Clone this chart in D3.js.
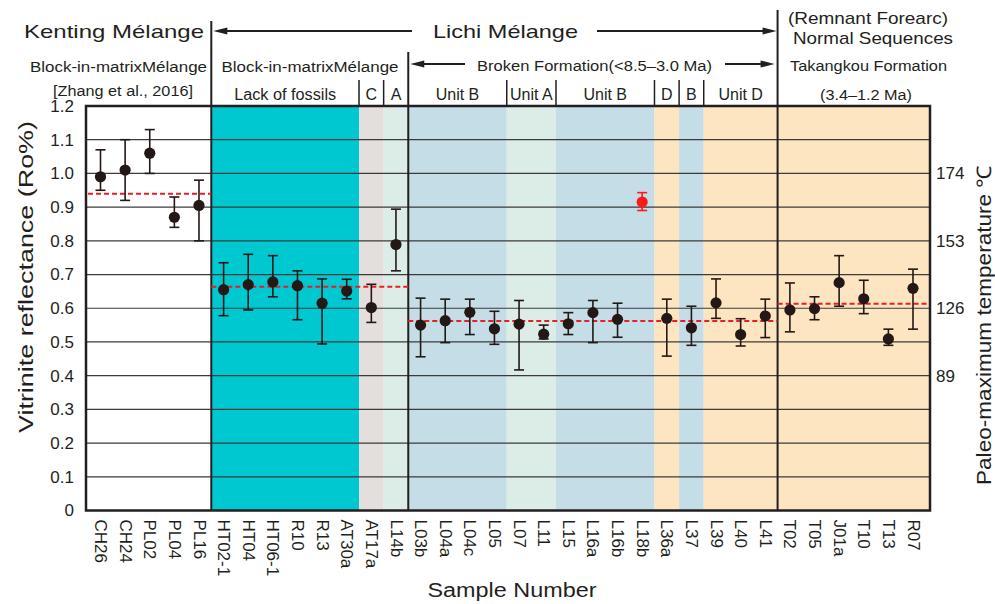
<!DOCTYPE html>
<html>
<head>
<meta charset="utf-8">
<script src="https://cdn.jsdelivr.net/npm/d3@7/dist/d3.min.js"></script>
<style>
	body { margin: 0; background: #fff; }
	svg { display: block; }
</style>
</head>
<body>
<div id="chart"></div>
<script>
// samples along the x axis, left to right
const samples = ['CH26', 'CH24', 'PL02', 'PL04', 'PL16',
	'HT02-1', 'HT04', 'HT06-1', 'R10', 'R13', 'AT30a', 'AT17a', 'L14b',
	'L03b', 'L04a', 'L04c', 'L05', 'L07', 'L11', 'L15', 'L16a', 'L16b', 'L18b',
	'L36a', 'L37', 'L39', 'L40', 'L41',
	'T02', 'T05', 'J01a', 'T10', 'T13', 'R07']

// vitrinite reflectance, Ro% (mean, low, high)
const ro = [0.99, 1.01, 1.06, 0.87, 0.905,
	0.655, 0.67, 0.678, 0.667, 0.615, 0.651, 0.602, 0.789,
	0.55, 0.563, 0.588, 0.539, 0.553, 0.523, 0.554, 0.587, 0.567, 0.915,
	0.57, 0.542, 0.616, 0.522, 0.577,
	0.595, 0.599, 0.676, 0.628, 0.509, 0.659]
const roLow = [0.95, 0.92, 1.0, 0.84, 0.80,
	0.578, 0.595, 0.634, 0.566, 0.494, 0.628, 0.558, 0.711,
	0.456, 0.498, 0.522, 0.493, 0.417, 0.509, 0.522, 0.498, 0.514, 0.89,
	0.458, 0.49, 0.57, 0.488, 0.513,
	0.53, 0.566, 0.606, 0.584, 0.49, 0.538]
const roHigh = [1.07, 1.10, 1.13, 0.93, 0.98,
	0.735, 0.76, 0.756, 0.711, 0.687, 0.686, 0.671, 0.894,
	0.63, 0.627, 0.627, 0.591, 0.623, 0.55, 0.587, 0.623, 0.615, 0.943,
	0.627, 0.606, 0.687, 0.569, 0.627,
	0.675, 0.634, 0.756, 0.683, 0.538, 0.716]
const outliers = ['L18b']

// mean lines per section
const meanFrom = ['CH26', 'HT02-1', 'L03b', 'T02']
const meanTo   = ['PL16', 'L14b', 'L41', 'R07']
const meanRo   = [0.94, 0.664, 0.562, 0.613]

// background bands
const bandFrom = ['HT02-1', 'AT17a', 'L14b', 'L03b', 'L07', 'L15', 'L36a', 'L37', 'L39', 'T02']
const bandTo   = ['AT30a', 'AT17a', 'L14b', 'L05', 'L11', 'L18b', 'L36a', 'L37', 'L41', 'R07']
const bandKind = ['cyan', 'gray', 'mint', 'blue', 'mint', 'blue', 'orange', 'blue', 'orange', 'orange']

// unit labels of the third header row
const unitLabels = ['Lack of fossils', 'C', 'A', 'Unit B', 'Unit A', 'Unit B', 'D', 'B', 'Unit D']
const unitFrom   = ['HT02-1', 'AT17a', 'L14b', 'L03b', 'L07', 'L15', 'L36a', 'L37', 'L39']
const unitTo     = ['AT30a', 'AT17a', 'L14b', 'L05', 'L11', 'L18b', 'L36a', 'L37', 'L41']

// section boundaries (first sample of each new section)
const sectionStarts = ['HT02-1', 'L03b', 'T02']

// right axis: paleo-maximum temperature at given Ro
const tempRo     = [1.0, 0.8, 0.6, 0.4]
const tempLabels = ['174', '153', '126', '89']

const yTicks = [0, 0.1, 0.2, 0.3, 0.4, 0.5, 0.6, 0.7, 0.8, 0.9, 1.0, 1.1, 1.2]

const w = 995, h = 604
const plotL = 86, plotR = 930, plotT = 106, plotB = 510.5
const ink = '#231f20'
const font = '"Liberation Sans", Arial, sans-serif'
const bandColors = {
	cyan:   '#00c8d0',
	gray:   '#e4dfdc',
	mint:   '#dcede7',
	blue:   '#c4dde7',
	orange: '#fee5c1'
}

const svg = d3.select('#chart').append('svg')
	.attr('width', w)
	.attr('height', h)
	.attr('font-family', font)

const x = d3.scalePoint()
	.domain(samples)
	.range([100.5, 913])

const y = d3.scaleLinear()
	.domain([0, 1.2])
	.range([plotB, plotT])

const idx = s => samples.indexOf(s)
const leftEdge = s => idx(s) === 0 ? plotL : (x(s) + x(samples[idx(s) - 1])) / 2
const rightEdge = s => idx(s) === samples.length - 1 ? plotR : (x(s) + x(samples[idx(s) + 1])) / 2

// Bands

svg.append('g').selectAll('rect')
	.data(bandFrom)
	.enter()
	.append('rect')
	.attr('x', d => leftEdge(d))
	.attr('y', plotT)
	.attr('width', (d, i) => rightEdge(bandTo[i]) - leftEdge(d))
	.attr('height', plotB - plotT)
	.attr('fill', (d, i) => bandColors[bandKind[i]])

// Grid

svg.append('g').selectAll('line')
	.data(yTicks.filter(t => t > 0 && t < 1.2))
	.enter()
	.append('line')
	.attr('x1', plotL)
	.attr('x2', plotR)
	.attr('y1', d => y(d))
	.attr('y2', d => y(d))
	.attr('stroke', '#3b3b3b')
	.attr('stroke-width', 1.2)

// Section lines

const sectionX = sectionStarts.map(leftEdge)
const sectionTop = [21, 52, 10]

svg.append('g').selectAll('line')
	.data(sectionX)
	.enter()
	.append('line')
	.attr('x1', d => d)
	.attr('x2', d => d)
	.attr('y1', (d, i) => sectionTop[i])
	.attr('y2', plotB)
	.attr('stroke', ink)
	.attr('stroke-width', 2)

// Unit dividers in header

svg.append('g').selectAll('line')
	.data(unitFrom.filter(s => !sectionStarts.includes(s)))
	.enter()
	.append('line')
	.attr('x1', d => leftEdge(d))
	.attr('x2', d => leftEdge(d))
	.attr('y1', 80)
	.attr('y2', plotT)
	.attr('stroke', ink)
	.attr('stroke-width', 1.5)

// Mean lines

svg.append('g').selectAll('line')
	.data(meanRo)
	.enter()
	.append('line')
	.attr('x1', (d, i) => i === 0 ? plotL + 2 : leftEdge(meanFrom[i]))
	.attr('x2', (d, i) => rightEdge(meanTo[i]))
	.attr('y1', d => y(d))
	.attr('y2', d => y(d))
	.attr('stroke', '#ec1c24')
	.attr('stroke-width', 2)
	.attr('stroke-dasharray', '5,3')

// Error bars and points

const colorOf = s => outliers.includes(s) ? '#ff1a1a' : '#231815'

const err = svg.append('g').selectAll('g')
	.data(samples)
	.enter()
	.append('g')
	.attr('stroke', colorOf)
	.attr('stroke-width', 1.6)

err.append('line')
	.attr('x1', d => x(d))
	.attr('x2', d => x(d))
	.attr('y1', (d, i) => y(roLow[i]))
	.attr('y2', (d, i) => y(roHigh[i]))

err.append('line')
	.attr('x1', d => x(d) - 5)
	.attr('x2', d => x(d) + 5)
	.attr('y1', (d, i) => y(roLow[i]))
	.attr('y2', (d, i) => y(roLow[i]))

err.append('line')
	.attr('x1', d => x(d) - 5)
	.attr('x2', d => x(d) + 5)
	.attr('y1', (d, i) => y(roHigh[i]))
	.attr('y2', (d, i) => y(roHigh[i]))

svg.append('g').selectAll('circle')
	.data(samples)
	.enter()
	.append('circle')
	.attr('cx', d => x(d))
	.attr('cy', (d, i) => y(ro[i]))
	.attr('r', 5.6)
	.attr('fill', colorOf)

// Frame

svg.append('rect')
	.attr('x', plotL)
	.attr('y', plotT)
	.attr('width', plotR - plotL)
	.attr('height', plotB - plotT)
	.attr('fill', 'none')
	.attr('stroke', ink)
	.attr('stroke-width', 2.5)

// Axes

const yAxis = svg.append('g')
	.attr('transform', `translate(${plotL},0)`)
	.call(d3.axisLeft(y)
		.tickValues(yTicks)
		.tickSize(0)
		.tickPadding(12)
		.tickFormat(d => d === 0 ? '0' : d3.format('.1f')(d)))

const tAxis = svg.append('g')
	.attr('transform', `translate(${plotR},0)`)
	.call(d3.axisRight(y)
		.tickValues(tempRo)
		.tickSize(0)
		.tickPadding(6)
		.tickFormat((d, i) => tempLabels[i]))

const xAxis = svg.append('g')
	.attr('transform', `translate(0,${plotB})`)
	.call(d3.axisBottom(x).tickSize(0))

xAxis.selectAll('text')
	.attr('transform', 'rotate(90)')
	.attr('x', 9)
	.attr('y', 0)
	.attr('dy', '0.35em')
	.style('text-anchor', 'start')

;[yAxis, tAxis, xAxis].forEach(a => {
	a.select('.domain').remove()
	a.selectAll('text')
		.attr('font-family', font)
		.attr('font-size', 17)
		.attr('fill', ink)
})

// Titles and header labels

const label = (txt, cx, cy, size, len, rot) => {
	const t = svg.append('text')
		.attr('transform', `translate(${cx},${cy})${rot ? ` rotate(${rot})` : ''}`)
		.attr('text-anchor', 'middle')
		.attr('dominant-baseline', 'central')
		.attr('font-size', size)
		.attr('fill', ink)
		.text(txt)
	if (len) t.attr('textLength', len).attr('lengthAdjust', 'spacingAndGlyphs')
	return t
}

label('Vitrinite reflectance (Ro%)', 26, 277, 20, 312, -90)
label('Paleo-maximum temperature \u2103', 984, 325, 20, 320, -90)
label('Sample Number', 512, 590, 20, 169)

label('Kenting  Mélange', 114, 31, 19, 180)
label('Lichi Mélange', 505.5, 31, 19, 145)
label('(Remnant Forearc)', 868, 18, 17, 160)
label('Normal Sequences', 873, 38, 17, 160)

label('Block-in-matrixMélange', 118.5, 66, 15.5, 177)
label('Block-in-matrixMélange', 310, 66, 15.5, 177)
label('Broken Formation(<8.5\u20133.0 Ma)', 594.5, 65, 15.5, 235)
label('Takangkou Formation', 868.5, 65, 15.5, 157)

label('[Zhang et al., 2016]', 123, 90, 15.5, 140)
label('(3.4\u20131.2 Ma)', 866, 94, 15.5, 92)

unitLabels.forEach((u, i) => {
	const cx = (leftEdge(unitFrom[i]) + rightEdge(unitTo[i])) / 2
	label(u, cx, 94, 16, u === 'Lack of fossils' ? 102 : null)
})

// Arrows

const arrow = (x1, tip, yy) => {
	const dir = Math.sign(tip - x1)
	svg.append('line')
		.attr('x1', x1)
		.attr('x2', tip - dir * 10)
		.attr('y1', yy)
		.attr('y2', yy)
		.attr('stroke', ink)
		.attr('stroke-width', 1.8)
	svg.append('path')
		.attr('d', d3.line()([[tip, yy], [tip - dir * 14, yy - 3.5], [tip - dir * 14, yy + 3.5]]) + 'Z')
		.attr('fill', ink)
}

arrow(412, sectionX[0] + 2, 31)
arrow(597, sectionX[2] - 1, 31)
arrow(465, sectionX[1] + 2, 64)
arrow(725, sectionX[2] - 3, 64)
</script>
</body>
</html>
